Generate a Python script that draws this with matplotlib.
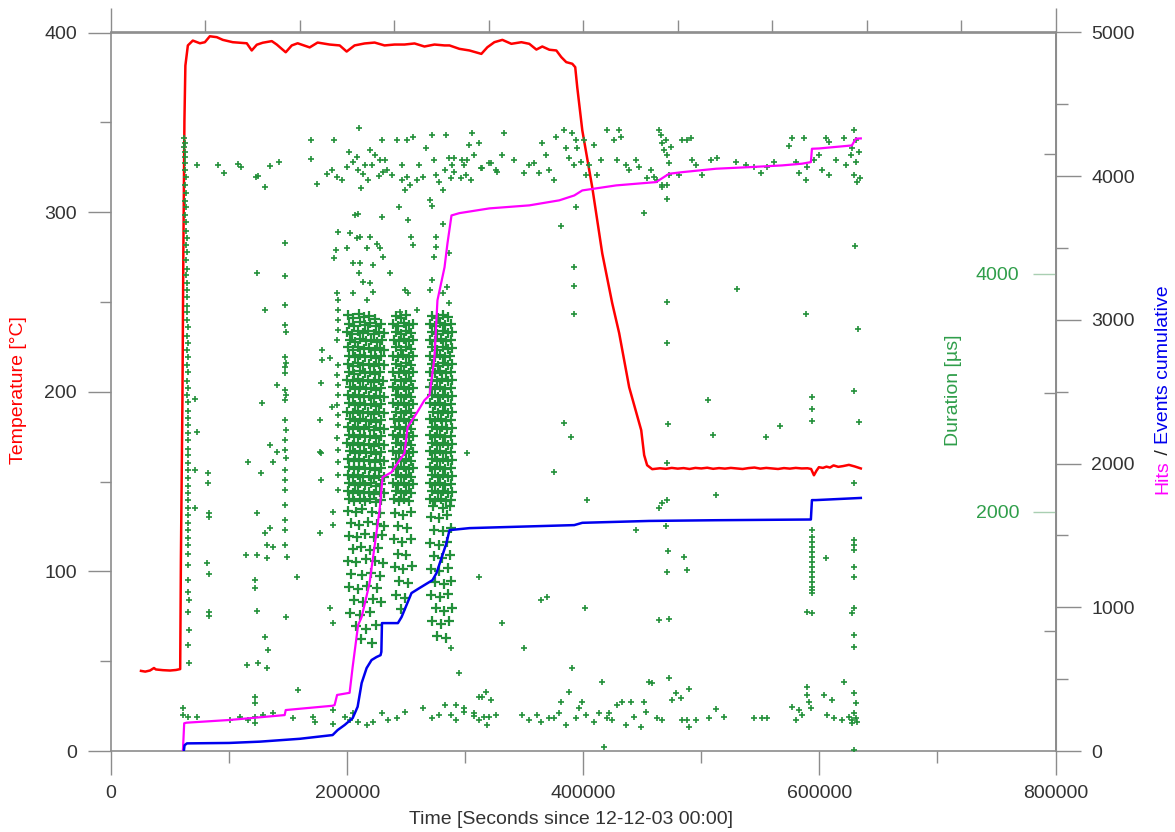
import matplotlib
matplotlib.use('Agg')
import matplotlib.pyplot as plt
from matplotlib.ticker import MultipleLocator, FixedLocator, NullFormatter

plt.rcParams['font.family'] = ['Liberation Sans', 'DejaVu Sans']

W, H, DPI = 1175, 832, 100
FS = 14
GRID_C = '#8c8c8c'
TXT_C = '#333333'
GREEN = '#22903a'

# ---------------- data (time in kilo-seconds) ----------------
temp_time_ks = [25.4, 29.0, 33.0, 36.4, 38.0, 44.0, 50.0, 55.0, 58.6, 59.2, 60.5, 61.3, 62.2, 63.0, 65.1,
                69.3, 75.3, 79.5, 83.7, 89.6, 94.7, 103.1, 109.1, 115.0, 119.2, 123.5, 128.5, 136.2,
                140.4, 144.6, 148.0, 153.1, 158.1, 168.3, 175.0, 185.2, 193.7, 199.6, 206.3, 214.8,
                223.3, 231.7, 240.2, 248.6, 257.1, 265.5, 274.0, 282.5, 286.7, 295.1, 303.6, 313.7,
                318.8, 324.7, 331.5, 339.1, 347.6, 354.3, 360.3, 365.3, 371.3, 377.2, 381.4, 385.6,
                390.7, 393.2, 394.9, 399.2, 407.6, 416.1, 424.5, 430.4, 438.9, 449.1, 451.6, 454.1,
                458.4, 465.0, 470.0, 475.0, 480.0, 485.0, 490.0, 495.0, 500.0, 505.0, 510.0, 515.0,
                520.0, 525.0, 530.0, 535.0, 540.0, 545.0, 550.0, 555.0, 560.0, 565.0, 570.0, 575.0,
                580.0, 585.0, 590.0, 593.0, 595.4, 597.5, 599.6, 603.0, 606.0, 609.0, 612.0, 616.0,
                620.0, 625.0, 630.0, 635.1]
temp_degc = [44.6, 44.2, 44.8, 46.2, 45.4, 45.0, 44.8, 45.1, 45.6, 106.3, 195.3, 278.7, 351.0, 381.6, 392.8,
             395.5, 394.0, 394.6, 397.9, 397.4, 395.9, 394.6, 394.3, 394.0, 390.0, 393.2, 394.3, 395.2,
             393.3, 390.9, 389.0, 392.8, 394.0, 391.7, 394.4, 393.3, 392.8, 389.4, 392.8, 393.9,
             394.4, 392.8, 393.3, 393.3, 393.9, 392.2, 393.3, 392.8, 392.8, 390.9, 390.0, 388.1,
             391.8, 394.6, 395.9, 393.7, 394.6, 393.7, 390.5, 392.2, 390.4, 390.0, 386.3, 383.5,
             382.6, 380.7, 369.6, 345.5, 313.9, 277.0, 249.4, 232.7, 202.5, 178.6, 164.7, 159.1,
             156.9, 157.4, 157.1, 157.6, 157.2, 157.5, 157.0, 157.6, 157.3, 157.7, 157.1, 157.5,
             157.2, 157.6, 157.3, 157.0, 157.5, 157.8, 157.2, 157.6, 157.3, 157.0, 157.5, 157.2,
             157.6, 157.3, 157.4, 157.0, 153.5, 156.0, 158.0, 157.6, 158.3, 157.8, 159.0, 158.2,
             158.6, 159.3, 158.4, 157.3]

hits_time_ks = [60.9, 62.0, 64.0, 100.6, 147.1, 148.0, 187.7, 189.4, 191.5, 202.1, 204.7, 209.3, 212.3,
                219.0, 221.6, 227.5, 230.0, 237.6, 242.7, 248.6, 251.2, 258.8, 265.5, 269.8, 274.0,
                276.5, 282.5, 285.0, 288.4, 295.1, 320.5, 354.3, 379.7, 392.4, 399.2, 427.9, 461.7,
                472.7, 483.7, 512.5, 540.4, 568.3, 585.2, 592.8, 593.7, 599.6, 627.5, 630.9, 635.1]
hits_cum = [0, 193, 197, 216, 250, 285, 315, 320, 390, 405, 586, 876, 932,
            1168, 1328, 1676, 1905, 1940, 2003, 2072, 2253, 2350, 2441, 2476, 2740,
            3136, 3366, 3533, 3727, 3743, 3776, 3797, 3832, 3866, 3901, 3936, 3959,
            4017, 4028, 4052, 4063, 4075, 4087, 4098, 4191, 4193, 4214, 4261, 4263]

events_time_ks = [61.7, 62.3, 64.3, 100.0, 126.0, 160.0, 187.7, 192.0, 197.9, 204.7, 208.9, 212.3,
                  216.5, 220.7, 224.9, 228.3, 229.0, 229.5, 243.0, 246.1, 254.5, 261.3, 272.3, 275.7,
                  284.1, 286.7, 303.6, 392.4, 399.2, 455.8, 512.5, 592.8, 593.7, 597.0, 635.1]
events_cum = [0, 40, 53, 56, 65, 85, 111, 146, 181, 229, 308, 473,
              577, 633, 654, 667, 690, 890, 890, 932, 1099, 1134, 1189, 1238,
              1446, 1537, 1551, 1572, 1588, 1601, 1606, 1611, 1746, 1746, 1761]

# Duration of hits [us] – column at heat-up
onset_t_ks = [61.9, 62.6, 62.2, 62.8, 62.4, 63.0, 62.6, 63.2, 62.8, 63.4, 63.0, 63.6, 63.1, 63.8, 63.3,
              64.0, 63.5, 64.2, 63.7, 64.3, 63.9, 64.5, 64.0, 64.6, 64.1, 64.7, 64.2, 64.8, 64.3, 64.9,
              64.4, 65.0, 64.5, 65.0, 64.6, 65.1, 64.7, 65.1, 64.8, 65.2, 64.8, 65.2, 64.9, 65.3, 64.9,
              65.3, 65.0, 65.4, 65.0, 65.4, 65.1, 65.5, 65.1, 65.5, 65.2, 65.6, 65.2, 65.6, 65.3, 65.6,
              65.3, 65.7, 65.4, 65.7, 65.4, 65.8]
onset_dur = [5140, 5100, 5060, 5020, 4980, 4930, 4870, 4810, 4740, 4680, 4610, 4560, 4490, 4430, 4360,
             4300, 4240, 4180, 4110, 4040, 3990, 3920, 3860, 3800, 3730, 3680, 3610, 3550, 3480, 3420,
             3360, 3300, 3230, 3170, 3100, 3040, 2980, 2920, 2850, 2790, 2730, 2660, 2600, 2530, 2480,
             2410, 2350, 2280, 2220, 2160, 2100, 2030, 1970, 1910, 1850, 1780, 1720, 1650, 1550, 1430,
             1330, 1260, 1160, 1010, 880, 730]

top_band = [(72.7, 4908), (90.5, 4908), (95.6, 4841), (107.4, 4916), (109.9, 4891), (122.6, 4807),
            (124.3, 4816), (130.2, 4724), (134.5, 4900), (142.1, 4933), (169.1, 5118), (169.1, 4958),
            (188.6, 5118), (209.7, 5219), (174.2, 4749), (182.7, 4833), (186.9, 4866), (191.1, 4807),
            (195.4, 4782), (199.6, 4891), (201.3, 5017), (204.7, 4933), (208.0, 4975), (208.9, 4866),
            (211.4, 4715), (213.1, 4833), (219.0, 5034), (220.7, 4908), (227.5, 4950), (229.2, 5118),
            (230.0, 4849), (233.4, 4866), (226.6, 4816), (241.9, 5118), (250.3, 5118), (256.2, 5143),
            (246.9, 4908), (246.1, 4782), (250.3, 4807), (252.9, 4740), (258.8, 4782), (263.9, 4807),
            (267.2, 5051), (272.3, 5160), (274.0, 4950), (275.7, 4824), (278.2, 4766), (280.8, 4698),
            (284.1, 5160), (286.7, 4967), (289.2, 4908), (288.4, 4799), (296.8, 4799), (299.4, 4908),
            (305.3, 4782), (306.1, 5177), (312.1, 5093), (313.7, 4883), (320.5, 4925), (326.4, 4866),
            (248.6, 4698), (214.8, 4908), (217.3, 4782), (223.3, 4992), (231.7, 4950), (237.6, 4824),
            (261.3, 4908), (282.5, 4866), (290.9, 4849), (301.9, 4950),
            (290.9, 4967), (297.7, 4950), (301.1, 4824), (303.6, 5076), (307.8, 4992), (314.6, 4883),
            (322.2, 4925), (327.3, 4849), (331.5, 4992), (333.2, 5177), (341.6, 4950), (350.1, 4841),
            (354.3, 4908), (358.6, 4925), (362.8, 4841), (365.3, 5093), (368.7, 4992), (371.3, 4866),
            (375.5, 4782), (377.2, 5143), (383.9, 5202), (385.6, 5051), (388.2, 4967), (390.7, 5177),
            (392.4, 4908), (394.1, 5118), (394.9, 5051), (398.3, 4933), (400.9, 5118), (402.5, 4824),
            (405.1, 4908), (409.3, 5076), (411.8, 4824), (415.2, 4950), (420.3, 5202), (426.2, 5118),
            (430.4, 5202), (432.1, 5143), (428.8, 4950), (436.4, 4908), (438.9, 4866), (444.8, 4950),
            (447.4, 4891), (454.1, 4799), (457.5, 4866), (460.0, 4807), (462.6, 4782), (464.3, 5202),
            (466.0, 5160), (466.8, 5093), (468.5, 5034), (470.2, 5118), (471.0, 4992), (472.7, 4925),
            (474.4, 5059), (472.7, 4824), (466.8, 4740), (471.0, 4740), (481.2, 4824), (483.7, 5118),
            (488.0, 5118), (491.3, 5135), (492.2, 4950), (495.6, 4908), (500.6, 4824), (508.3, 4950),
            (513.3, 4967), (529.4, 4933), (537.8, 4908), (544.6, 4891), (550.5, 4841), (555.6, 4891),
            (561.5, 4933), (576.8, 5135), (574.2, 5068), (586.9, 5135), (580.1, 4933), (582.7, 4841),
            (589.4, 4891), (588.6, 4782), (595.4, 4950), (599.6, 4992), (605.5, 5135), (608.0, 5101),
            (614.0, 4950), (602.1, 4866), (608.0, 4824), (620.7, 5135), (622.4, 4908), (629.2, 5202),
            (630.9, 5118), (626.6, 4992), (630.9, 4933), (629.2, 4824), (631.7, 4766), (627.5, 5051),
            (633.4, 5017), (634.3, 4799)]

bottom_band = [(60.9, 352), (60.9, 294), (65.1, 277), (72.7, 277), (100.6, 252), (109.1, 277),
               (115.9, 252), (121.8, 277), (121.8, 445), (121.8, 394), (121.8, 227), (128.5, 294),
               (137.0, 310), (153.9, 268), (158.1, 503), (170.8, 277), (172.5, 235), (187.7, 336),
               (187.7, 218), (197.9, 277), (202.1, 252), (204.7, 310), (208.9, 235), (216.5, 210),
               (221.6, 235), (229.2, 310), (234.2, 252), (241.9, 268), (248.6, 319), (263.9, 352),
               (272.3, 268), (278.2, 294), (282.5, 378), (288.4, 294), (292.6, 252), (299.4, 352),
               (307.8, 285), (312.1, 252), (314.6, 445), (318.0, 487), (320.5, 277), (326.4, 294),
               (292.6, 378), (299.4, 319), (307.8, 310), (312.1, 445), (316.3, 277), (318.8, 210),
               (322.2, 420), (348.4, 294), (354.3, 252), (361.1, 294), (364.5, 235), (371.3, 268),
               (375.5, 268), (379.7, 310), (381.4, 403), (385.6, 210), (388.2, 487), (390.7, 688),
               (394.1, 268), (396.6, 352), (399.2, 403), (402.5, 294), (409.3, 235), (416.1, 571),
               (413.5, 310), (420.3, 268), (422.0, 310), (424.5, 252), (428.8, 378), (433.0, 403),
               (436.4, 210), (440.6, 403), (443.1, 277), (449.1, 193), (451.6, 403), (453.3, 319),
               (455.8, 571), (458.4, 562), (462.6, 268), (466.8, 252), (472.7, 604), (475.3, 420),
               (478.6, 478), (482.9, 436), (483.7, 252), (488.0, 252), (489.6, 512), (489.6, 193),
               (495.6, 252), (506.6, 268), (512.5, 344), (519.2, 277), (544.6, 268), (551.4, 268),
               (555.6, 268), (576.8, 361), (582.7, 336), (585.2, 294), (580.1, 252), (589.4, 529),
               (589.4, 461), (591.1, 403), (592.8, 352), (603.8, 461), (610.6, 420), (606.3, 294),
               (612.3, 268), (619.0, 252), (620.7, 571), (624.9, 277), (627.5, 252), (629.2, 478),
               (630.9, 394), (629.2, 310), (630.9, 268), (627.5, 227), (631.7, 235), (417.8, 25),
               (629.2, 0), (295.1, 646), (288.4, 856)]

sparse_mid = [(147.1, 4254), (147.1, 3977), (147.1, 3734), (147.1, 3566), (148.0, 3507), (147.1, 3297),
              (148.0, 3247), (147.1, 3213), (147.1, 3163), (147.1, 3020), (148.0, 2978), (147.1, 2937),
              (147.1, 2769), (148.0, 2685), (147.1, 2601), (147.1, 2517), (148.0, 2450), (147.1, 2349),
              (147.1, 2265), (147.1, 2181), (147.1, 2056), (147.1, 1930), (147.1, 1846), (147.1, 1720),
              (123.5, 4002), (130.2, 3692), (140.4, 3062), (127.7, 2911), (71.0, 2945), (72.7, 2668),
              (134.5, 2559), (137.0, 2416), (115.9, 2416), (82.0, 2324), (82.0, 2240), (82.9, 1988),
              (82.9, 1955), (123.5, 1988), (130.2, 1821), (131.9, 1720), (114.2, 1636), (123.5, 1636),
              (131.9, 1611), (157.3, 1451), (121.8, 1426), (121.8, 1359), (81.2, 1569), (82.9, 1477),
              (82.9, 1158), (82.9, 1124), (123.5, 1166), (115.0, 713), (124.3, 730), (131.9, 688),
              (130.2, 948), (132.8, 839), (148.0, 1116), (148.8, 1619), (71.0, 2349), (71.0, 2030),
              (126.9, 2324), (134.5, 1863), (137.0, 1703), (140.4, 2500),
              (176.7, 2500), (177.6, 3079), (178.4, 3356), (178.4, 3272), (185.2, 3289), (187.7, 1997),
              (187.7, 1888), (192.0, 3692), (192.0, 3608), (192.0, 3524), (176.7, 2769), (177.6, 2492),
              (177.6, 2265), (185.2, 1191), (187.7, 1066), (186.9, 2878), (176.7, 1821),
              (192.0, 3230), (191.1, 3146), (192.0, 3062), (192.0, 2978), (191.1, 2895), (192.0, 2811),
              (192.0, 2727), (191.1, 2618), (192.0, 2517), (192.0, 2416), (192.0, 2307), (192.0, 2181),
              (191.1, 3834), (192.0, 3776), (191.1, 3440),
              (243.6, 4556), (251.2, 4447), (269.8, 4614), (271.5, 4564), (280.8, 4413), (206.3, 4489),
              (208.9, 4497), (229.2, 4472), (192.0, 4346), (202.1, 4338), (208.0, 4296), (210.6, 4304),
              (219.0, 4304), (225.0, 4245), (227.5, 4212), (190.3, 4195), (199.6, 4212), (216.5, 4212),
              (230.0, 4136), (188.6, 4128), (204.7, 4086), (210.6, 4086), (221.6, 4069), (235.9, 4002),
              (254.5, 4304), (255.4, 4237), (275.7, 4304), (275.7, 4221), (274.0, 4136), (286.7, 4170),
              (209.7, 4002), (213.1, 3926), (219.0, 3918), (221.6, 3843), (204.7, 3834), (216.5, 3776),
              (248.6, 3859), (251.2, 3834), (259.6, 3692), (244.4, 3675), (271.5, 3943), (269.8, 3859),
              (286.7, 3750), (280.8, 3834), (285.0, 3884),
              (471.0, 3415), (383.9, 2744), (389.9, 2626), (301.9, 2492), (375.5, 2332), (471.9, 2735),
              (471.0, 2408), (505.7, 2937), (509.9, 2643), (554.8, 2626), (566.6, 2718), (593.7, 2962),
              (593.7, 2861), (593.7, 2760), (629.2, 3012), (633.4, 2752), (629.2, 2240), (403.4, 2098),
              (471.0, 2098), (466.8, 2072), (464.3, 2030), (512.5, 2139), (444.8, 1846), (470.2, 1879),
              (471.9, 1670), (485.4, 1619), (488.0, 1510), (471.0, 1493), (312.1, 1451), (364.5, 1259),
              (369.6, 1284), (401.7, 1191), (464.3, 1091), (472.7, 1099), (331.5, 1066), (350.1, 856),
              (605.5, 1611), (589.4, 1158), (593.7, 1149), (627.5, 1149), (629.2, 1191), (629.2, 965),
              (629.2, 864), (629.2, 1535), (629.2, 1451), (629.2, 1762), (629.2, 1720), (629.2, 1678),
              (394.1, 4556), (381.4, 4396), (451.6, 4505), (471.0, 4623), (466.8, 4724), (392.4, 4052),
              (392.4, 3893), (392.4, 3658), (471.0, 3759), (530.2, 3868), (588.6, 3658), (630.0, 4229),
              (632.6, 3532),
              (593.7, 1846), (593.7, 1787), (593.7, 1745), (593.7, 1703), (593.7, 1661), (593.7, 1619),
              (593.7, 1577), (593.7, 1535), (593.7, 1493), (593.7, 1451), (593.7, 1409), (593.7, 1368),
              (593.7, 1342), (593.7, 1317)]

# dense bursts (time [ks], duration [us])
burst_a = [
    (200.6, 3652), (205.0, 3628), (209.8, 3660), (214.1, 3635), (218.9, 3648), (223.2, 3620),
    (201.8, 3580), (206.1, 3560), (210.5, 3590), (215.3, 3566), (219.6, 3585), (224.4, 3558), (228.6, 3575),
    (200.3, 3512), (204.4, 3494), (209.2, 3520), (213.5, 3500), (218.0, 3515), (222.6, 3490), (227.1, 3510), (231.0, 3498),
    (202.2, 3446), (206.8, 3428), (211.0, 3452), (215.7, 3432), (220.1, 3445), (224.9, 3425), (229.3, 3440),
    (200.9, 3380), (205.3, 3360), (209.6, 3385), (214.4, 3365), (218.7, 3378), (223.3, 3358), (227.8, 3375), (231.4, 3362),
    (202.0, 3312), (206.4, 3296), (210.9, 3318), (215.2, 3298), (219.8, 3310), (224.1, 3292), (228.5, 3308),
    (200.4, 3245), (204.8, 3228), (209.4, 3250), (213.8, 3230), (218.3, 3242), (222.8, 3225), (227.3, 3240), (231.2, 3232),
    (201.6, 3178), (206.0, 3160), (210.6, 3183), (215.0, 3165), (219.4, 3176), (223.9, 3158), (228.2, 3174),
    (200.1, 3110), (204.6, 3095), (208.9, 3115), (213.4, 3098), (217.9, 3108), (222.4, 3090), (226.9, 3106), (230.8, 3098),
    (202.4, 3045), (206.7, 3028), (211.3, 3050), (215.8, 3030), (220.3, 3042), (224.6, 3025), (229.0, 3040),
    (200.8, 2978), (205.2, 2960), (209.7, 2983), (214.2, 2962), (218.5, 2976), (223.1, 2958), (227.6, 2972), (231.3, 2965),
    (201.9, 2910), (206.3, 2894), (210.8, 2915), (215.4, 2896), (219.9, 2908), (224.3, 2890), (228.8, 2905),
    (200.2, 2842), (204.7, 2826), (209.1, 2848), (213.6, 2830), (218.1, 2840), (222.7, 2822), (227.2, 2838), (231.0, 2830),
    (202.1, 2776), (206.5, 2760), (211.1, 2782), (215.6, 2762), (220.0, 2774), (224.5, 2756), (228.9, 2772),
    (200.7, 2710), (205.1, 2692), (209.5, 2715), (214.0, 2695), (218.6, 2708), (223.0, 2690), (227.5, 2705), (231.2, 2698),
    (201.7, 2642), (206.2, 2626), (210.7, 2648), (215.1, 2628), (219.7, 2640), (224.2, 2622), (228.6, 2638),
    (200.3, 2575), (204.9, 2558), (209.3, 2580), (213.9, 2560), (218.4, 2572), (222.9, 2555), (227.4, 2570), (231.1, 2562),
    (202.3, 2508), (206.6, 2492), (211.2, 2514), (215.7, 2494), (220.2, 2506), (224.7, 2488), (229.1, 2504),
    (200.9, 2440), (205.4, 2425), (209.8, 2446), (214.3, 2428), (218.8, 2438), (223.2, 2420), (227.7, 2436), (231.3, 2428),
    (201.5, 2374), (206.0, 2358), (210.4, 2380), (214.9, 2360), (219.5, 2372), (224.0, 2354), (228.4, 2370),
    (200.4, 2306), (204.8, 2292), (209.2, 2312), (213.7, 2294), (218.2, 2304), (222.8, 2286), (227.3, 2302), (231.0, 2295),
    (202.0, 2240), (206.4, 2224), (210.9, 2246), (215.4, 2226), (219.9, 2238), (224.4, 2220), (228.8, 2236),
    (200.6, 2172), (205.0, 2158), (209.6, 2178), (214.1, 2160), (218.6, 2170), (223.1, 2152), (227.6, 2168), (231.2, 2160),
    (201.8, 2106), (206.2, 2090), (210.7, 2110), (215.2, 2092), (219.6, 2104), (224.1, 2086), (228.5, 2100),
    (200.5, 2010), (207.9, 1995), (213.0, 2020), (221.4, 2000), (228.0, 1990),
    (203.6, 1905), (210.1, 1890), (217.5, 1915), (225.2, 1895), (231.0, 1880),
    (201.2, 1800), (208.4, 1785), (214.8, 1810), (222.9, 1790), (229.4, 1805),
    (204.9, 1690), (211.6, 1705), (219.0, 1680), (226.3, 1700),
    (200.8, 1590), (207.2, 1575), (215.9, 1600), (223.7, 1585), (230.1, 1570),
    (203.0, 1480), (212.3, 1470), (220.6, 1490), (227.9, 1460),
    (201.4, 1370), (209.0, 1355), (216.7, 1380), (225.0, 1360),
    (205.6, 1260), (213.4, 1245), (222.1, 1270), (229.0, 1240),
    (202.7, 1150), (210.8, 1135), (219.3, 1160),
    (207.5, 1040), (216.0, 1020), (224.5, 1050),
    (212.0, 930), (220.8, 900),
]
burst_b = [
    (241.2, 3648), (245.6, 3630), (250.0, 3655),
    (239.0, 3580), (243.4, 3562), (247.9, 3586), (252.3, 3568), (255.8, 3575),
    (241.1, 3512), (245.5, 3496), (249.9, 3518), (254.2, 3500),
    (239.3, 3446), (243.7, 3430), (248.1, 3452), (252.5, 3434), (256.0, 3440),
    (241.0, 3380), (245.4, 3362), (249.8, 3385), (254.1, 3366),
    (238.9, 3312), (243.3, 3296), (247.7, 3318), (252.1, 3300), (255.7, 3306),
    (241.3, 3245), (245.7, 3228), (250.1, 3250), (254.4, 3232),
    (239.2, 3178), (243.6, 3162), (248.0, 3184), (252.4, 3166), (255.9, 3172),
    (240.9, 3110), (245.3, 3096), (249.7, 3116), (254.0, 3098),
    (239.1, 3044), (243.5, 3028), (247.9, 3050), (252.2, 3032), (255.8, 3038),
    (241.2, 2978), (245.6, 2960), (250.0, 2983), (254.3, 2964),
    (239.0, 2910), (243.4, 2894), (247.8, 2916), (252.2, 2898), (255.6, 2904),
    (241.4, 2842), (245.8, 2826), (250.2, 2848), (254.5, 2830),
    (239.3, 2776), (243.7, 2760), (248.1, 2782), (252.4, 2764), (255.9, 2770),
    (240.8, 2710), (245.2, 2694), (249.6, 2716), (253.9, 2698),
    (239.0, 2642), (243.4, 2626), (247.8, 2648), (252.1, 2630), (255.7, 2636),
    (241.1, 2575), (245.5, 2560), (249.9, 2580), (254.2, 2562),
    (239.2, 2508), (243.6, 2492), (248.0, 2514), (252.3, 2496), (255.8, 2502),
    (241.0, 2440), (245.4, 2426), (249.8, 2446), (254.1, 2428),
    (239.1, 2374), (243.5, 2358), (247.9, 2380), (252.2, 2362), (255.6, 2368),
    (241.3, 2306), (245.7, 2292), (250.1, 2312), (254.4, 2294),
    (239.0, 2240), (243.4, 2224), (247.8, 2246), (252.1, 2228), (255.7, 2234),
    (241.2, 2172), (245.6, 2158), (250.0, 2178), (254.3, 2160),
    (239.4, 2106), (243.8, 2090), (248.2, 2110), (252.5, 2094),
    (240.2, 1990), (247.0, 1975), (253.8, 2000), (243.5, 1880), (250.6, 1860), (239.6, 1770),
    (246.8, 1750), (254.0, 1775), (242.9, 1650), (250.1, 1640), (240.5, 1540), (247.6, 1520),
    (254.6, 1545), (244.1, 1420), (251.3, 1400), (241.0, 1300), (248.7, 1280), (245.5, 1180),
]
burst_c = [
    (272.2, 3648), (276.6, 3630), (281.0, 3655), (285.4, 3636),
    (270.0, 3580), (274.4, 3562), (278.8, 3586), (283.2, 3568), (287.6, 3575),
    (272.1, 3512), (276.5, 3496), (280.9, 3518), (285.3, 3500), (289.0, 3508),
    (270.3, 3446), (274.7, 3430), (279.1, 3452), (283.5, 3434), (287.9, 3440),
    (272.0, 3380), (276.4, 3362), (280.8, 3385), (285.2, 3366), (288.9, 3372),
    (269.9, 3312), (274.3, 3296), (278.7, 3318), (283.1, 3300), (287.5, 3306),
    (272.3, 3245), (276.7, 3228), (281.1, 3250), (285.5, 3232), (289.1, 3240),
    (270.2, 3178), (274.6, 3162), (279.0, 3184), (283.4, 3166), (287.8, 3172),
    (271.9, 3110), (276.3, 3096), (280.7, 3116), (285.1, 3098), (288.8, 3105),
    (270.1, 3044), (274.5, 3028), (278.9, 3050), (283.3, 3032), (287.7, 3038),
    (272.2, 2978), (276.6, 2960), (281.0, 2983), (285.4, 2964), (289.0, 2972),
    (270.0, 2910), (274.4, 2894), (278.8, 2916), (283.2, 2898), (287.6, 2904),
    (272.4, 2842), (276.8, 2826), (281.2, 2848), (285.6, 2830), (289.2, 2838),
    (270.3, 2776), (274.7, 2760), (279.1, 2782), (283.5, 2764), (287.9, 2770),
    (271.8, 2710), (276.2, 2694), (280.6, 2716), (285.0, 2698), (288.7, 2705),
    (270.0, 2642), (274.4, 2626), (278.8, 2648), (283.2, 2630), (287.6, 2636),
    (272.1, 2575), (276.5, 2560), (280.9, 2580), (285.3, 2562), (289.0, 2570),
    (270.2, 2508), (274.6, 2492), (279.0, 2514), (283.4, 2496), (287.8, 2502),
    (272.0, 2440), (276.4, 2426), (280.8, 2446), (285.2, 2428), (288.9, 2436),
    (270.1, 2374), (274.5, 2358), (278.9, 2380), (283.3, 2362), (287.7, 2368),
    (272.3, 2306), (276.7, 2292), (281.1, 2312), (285.5, 2294), (289.1, 2300),
    (270.0, 2240), (274.4, 2224), (278.8, 2246), (283.2, 2228), (287.6, 2234),
    (272.2, 2172), (276.6, 2158), (281.0, 2178), (285.4, 2160), (289.0, 2168),
    (270.4, 2106), (274.8, 2090), (279.2, 2110), (283.6, 2094), (288.0, 2100),
    (272.5, 2045), (281.3, 2035), (286.8, 2048),
    (270.8, 1960), (277.9, 1945), (284.9, 1970), (274.0, 1850), (281.2, 1835), (288.0, 1860),
    (270.5, 1740), (277.6, 1725), (284.6, 1750), (273.2, 1630), (280.4, 1615), (287.5, 1640),
    (270.9, 1520), (278.1, 1505), (285.1, 1530), (274.6, 1410), (281.7, 1395), (288.3, 1420),
    (271.4, 1300), (278.5, 1285), (285.6, 1310), (275.0, 1190), (282.2, 1170), (288.6, 1195),
    (272.0, 1080), (279.3, 1060), (286.4, 1085), (276.2, 960), (284.0, 940),
]

# ---------------- assemble scatter ----------------
sc_t = [t * 1000 for t in onset_t_ks]
sc_d = list(onset_dur)
for group in (top_band, bottom_band, sparse_mid):
    for t, d in group:
        sc_t.append(t * 1000)
        sc_d.append(d)

bu_t, bu_d = [], []
for group in (burst_a, burst_b, burst_c):
    for t, d in group:
        bu_t.append(t * 1000)
        bu_d.append(d)

# ---------------- figure ----------------
fig = plt.figure(figsize=(W / DPI, H / DPI), dpi=DPI)
x0, x1 = 111 / W, 1055.5 / W
y0, y1 = 1 - 751 / H, 1 - 32.5 / H
ax = fig.add_axes([x0, y0, x1 - x0, y1 - y0])
ax_d = ax.twinx()
ax_h = ax.twinx()

ax.plot([t * 1000 for t in temp_time_ks], temp_degc, color='#ff0000', lw=1.8, zorder=3)
ax_d.plot(bu_t, bu_d, linestyle='none', marker='+', ms=7, mew=1.6, color=GREEN, zorder=3)
ax_d.plot(sc_t, sc_d, linestyle='none', marker='+', ms=5, mew=1.2, color=GREEN, zorder=3)
ax_h.plot([t * 1000 for t in hits_time_ks], hits_cum, color='#ff00ff', lw=1.6, zorder=3)
ax_h.plot([t * 1000 for t in events_time_ks], events_cum, color='#0000ee', lw=1.8, zorder=4)

ax.set_xlim(0, 800000)
ax.set_ylim(0, 400)
ax_d.set_ylim(-8, 6024)
ax_h.set_ylim(0, 5000)

px2pt = 72 / DPI
# temperature axis
ax.yaxis.set_major_locator(MultipleLocator(100))
ax.yaxis.set_minor_locator(FixedLocator([50, 150, 250, 350]))
ax.tick_params(axis='y', which='major', length=23 * px2pt, width=1, color=GRID_C,
               labelsize=FS, labelcolor=TXT_C, pad=8)
ax.tick_params(axis='y', which='minor', length=11 * px2pt, width=1, color=GRID_C)
# x axis
ax.xaxis.set_major_locator(MultipleLocator(200000))
ax.xaxis.set_minor_locator(MultipleLocator(100000))
ax.tick_params(axis='x', which='major', length=24 * px2pt, width=1, color=GRID_C,
               labelsize=FS, labelcolor=TXT_C, pad=7.5)
ax.tick_params(axis='x', which='minor', length=12 * px2pt, width=1, color=GRID_C)
for s in ax.spines.values():
    s.set_color(GRID_C)
    s.set_linewidth(1.2)

secx = ax.secondary_xaxis('top')
secx.xaxis.set_major_locator(FixedLocator([0, 800000]))
secx.xaxis.set_minor_locator(FixedLocator([80000 * k for k in range(1, 10)]))
secx.xaxis.set_major_formatter(NullFormatter())
secx.tick_params(axis='x', which='major', length=24 * px2pt, width=1, color=GRID_C)
secx.tick_params(axis='x', which='minor', length=12 * px2pt, width=1, color=GRID_C)
secx.spines['top'].set_color(GRID_C)
secx.spines['top'].set_linewidth(1.2)

# hits axis (outer right)
for k, s in ax_h.spines.items():
    s.set_visible(k == 'right')
ax_h.spines['right'].set_color(GRID_C)
ax_h.spines['right'].set_linewidth(1.2)
ax_h.yaxis.set_major_locator(MultipleLocator(1000))
ax_h.yaxis.set_minor_locator(FixedLocator([500, 1500, 2500, 3500, 4500]))
ax_h.tick_params(axis='y', which='major', length=24.5 * px2pt, width=1, color=GRID_C,
                 labelsize=FS, labelcolor=TXT_C, pad=8)
ax_h.tick_params(axis='y', which='minor', length=12 * px2pt, width=1, color=GRID_C)

# duration axis (ticks pointing into the plot on the right edge)
for k, s in ax_d.spines.items():
    s.set_visible(k == 'left')
ax_d.spines['left'].set_position(('axes', 1.0))
ax_d.spines['left'].set_color(GRID_C)
ax_d.yaxis.set_ticks_position('left')
ax_d.yaxis.set_label_position('left')
ax_d.yaxis.set_major_locator(FixedLocator([2000, 4000]))
ax_d.yaxis.set_minor_locator(FixedLocator([1000, 3000, 5000]))
ax_d.tick_params(axis='y', which='major', length=23 * px2pt, width=1, color='#a9cfb2',
                 labelsize=FS, labelcolor='#2f9e4a', pad=9.5)
ax_d.tick_params(axis='y', which='minor', length=12 * px2pt, width=1, color=GRID_C)

# axis titles
fig.text(571 / W, 1 - 819 / H, 'Time [Seconds since 12-12-03 00:00]', fontsize=FS, color=TXT_C,
         ha='center', va='center')
fig.text(19 / W, 1 - 390 / H, 'Temperature [°C]', fontsize=FS, color='#ff0000', rotation=90,
         ha='center', va='center')
fig.text(953 / W, 1 - 390 / H, 'Duration [µs]', fontsize=FS, color='#2f9e4a', rotation=90,
         ha='center', va='center')

parts = [('Hits', '#ff00ff'), (' / ', '#222222'), ('Events cumulative', '#0000ee')]
texts = [fig.text(1163 / W, 0.5, s, fontsize=FS, color=c, rotation=90, ha='center', va='bottom')
         for s, c in parts]
fig.canvas.draw()
r = fig.canvas.get_renderer()
hs = [t.get_window_extent(r).height for t in texts]
ypix = (H - 390) - sum(hs) / 2
for t, h in zip(texts, hs):
    t.set_position((1163 / W, ypix / H))
    ypix += h

fig.savefig('out.png', dpi=DPI)
